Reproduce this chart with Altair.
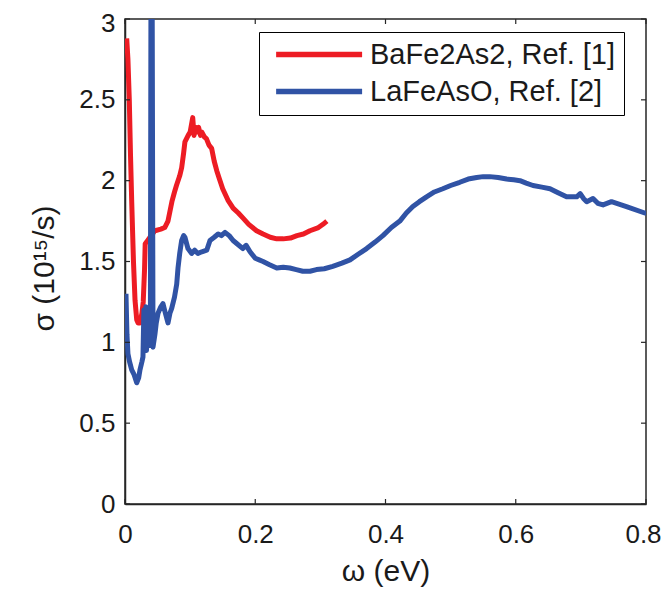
import altair as alt
import pandas as pd

# ---- data ----
series_names = ["BaFe2As2, Ref. [1]", "LaFeAsO, Ref. [2]"]
series_colors = ["#ED1C24", "#3053A5"]

red_x = [0.0026, 0.0045, 0.0066, 0.0085, 0.0103, 0.013, 0.0154, 0.018, 0.020, 0.023,
         0.026, 0.028, 0.030, 0.031, 0.033, 0.040, 0.046, 0.055, 0.061, 0.066,
         0.072, 0.076, 0.079, 0.084, 0.087, 0.090, 0.092, 0.097, 0.100, 0.104,
         0.106, 0.108, 0.110, 0.113, 0.116, 0.118, 0.122, 0.125, 0.129, 0.133,
         0.137, 0.141, 0.145, 0.150, 0.158, 0.166, 0.174, 0.181, 0.190, 0.202,
         0.212, 0.223, 0.233, 0.243, 0.254, 0.264, 0.274, 0.284, 0.297, 0.304, 0.310]
red_y = [2.88, 2.75, 2.50, 2.15, 1.87, 1.50, 1.26, 1.14, 1.12, 1.12,
         1.18, 1.25, 1.45, 1.61, 1.62, 1.66, 1.69, 1.70, 1.71, 1.75,
         1.87, 1.93, 1.97, 2.03, 2.08, 2.17, 2.24, 2.28, 2.30, 2.39,
         2.28, 2.33, 2.30, 2.33, 2.28, 2.30, 2.27, 2.26, 2.22, 2.20,
         2.12, 2.06, 2.01, 1.95, 1.88, 1.83, 1.80, 1.77, 1.73, 1.69,
         1.67, 1.65, 1.64, 1.64, 1.645, 1.66, 1.67, 1.69, 1.71, 1.73, 1.75]

blue_x = [0.0015, 0.0030, 0.0045, 0.007, 0.0103, 0.014, 0.018, 0.021, 0.023, 0.026,
          0.0276, 0.029, 0.030, 0.032, 0.033, 0.035, 0.037, 0.039, 0.0400, 0.0415,
          0.043, 0.046, 0.048, 0.0507, 0.055, 0.0583, 0.062, 0.066, 0.069, 0.0717,
          0.076, 0.0794, 0.0814, 0.084, 0.087, 0.090, 0.092, 0.0967, 0.1024, 0.107,
          0.112, 0.118, 0.1255, 0.1305, 0.137, 0.143, 0.148, 0.1536, 0.160, 0.166,
          0.172, 0.181, 0.186, 0.192, 0.200, 0.206, 0.212, 0.222, 0.233, 0.243,
          0.253, 0.263, 0.273, 0.284, 0.294, 0.306, 0.319, 0.333, 0.3455, 0.358,
          0.371, 0.384, 0.396, 0.409, 0.422, 0.432, 0.442, 0.452, 0.463, 0.475,
          0.488, 0.500, 0.514, 0.527, 0.540, 0.550, 0.560, 0.573, 0.586, 0.597,
          0.6065, 0.616, 0.6265, 0.640, 0.6526, 0.665, 0.678, 0.6936, 0.699, 0.704,
          0.709, 0.7186, 0.726, 0.734, 0.747, 0.770, 0.798, 0.800]
blue_y = [1.30, 1.05, 0.93, 0.88, 0.83, 0.80, 0.75, 0.78, 0.83, 0.88,
          0.91, 1.20, 1.00, 1.22, 0.95, 1.15, 0.98, 1.10, 3.50, 3.50,
          0.97, 1.05, 1.12, 1.18, 1.22, 1.24, 1.18, 1.12, 1.18, 1.21,
          1.28, 1.36, 1.46, 1.55, 1.63, 1.66, 1.65, 1.58, 1.55, 1.57,
          1.55, 1.56, 1.57, 1.63, 1.65, 1.67, 1.66, 1.68, 1.66, 1.63,
          1.61, 1.58, 1.60, 1.56, 1.52, 1.51, 1.50, 1.48, 1.46, 1.465,
          1.46, 1.45, 1.44, 1.44, 1.45, 1.455, 1.47, 1.49, 1.51, 1.545,
          1.58, 1.62, 1.66, 1.71, 1.75, 1.80, 1.84, 1.87, 1.90, 1.93,
          1.95, 1.97, 1.99, 2.01, 2.02, 2.025, 2.025, 2.02, 2.01, 2.005,
          2.00, 1.985, 1.97, 1.96, 1.95, 1.925, 1.90, 1.90, 1.92, 1.89,
          1.87, 1.89, 1.86, 1.85, 1.87, 1.84, 1.80, 1.80]

x_ticks = [0, 0.2, 0.4, 0.6, 0.8]
y_ticks = [0, 0.5, 1, 1.5, 2, 2.5, 3]

# ---- tables ----
red_df = pd.DataFrame({"w": red_x, "s": red_y, "series": series_names[0], "i": range(len(red_x))})
blue_df = pd.DataFrame({"w": blue_x, "s": blue_y, "series": series_names[1], "i": range(len(blue_x))})
xt_df = pd.DataFrame({"w": x_ticks})
yt_df = pd.DataFrame({"s": y_ticks})

W, H = 521, 485
FONT = "Liberation Sans"
AX = "#262626"

xscale = alt.Scale(domain=[0, 0.8], nice=False, zero=False)
yscale = alt.Scale(domain=[0, 3], nice=False, zero=False)
cscale = alt.Scale(domain=series_names, range=series_colors)

xaxis = alt.Axis(values=x_ticks, format="~g", grid=False, ticks=False, tickSize=0,
                 labelFlush=False,
                 labelOffset={"condition": {"test": "datum.value >= 0.79", "value": -3}, "value": 0},
                 labelPadding=17, labelFontSize=26, labelFont=FONT, labelColor="#1a1a1a",
                 domainColor=AX, domainWidth=1.5,
                 title="ω (eV)", titleFontSize=30, titleFont=FONT, titleFontWeight="normal",
                 titleColor="#1a1a1a", titleY=76, titleBaseline="alphabetic")
yaxis = alt.Axis(values=y_ticks, format="~g", grid=False, ticks=False, tickSize=0,
                 labelFlush=False,
                 labelOffset={"condition": {"test": "datum.value >= 2.99", "value": 4}, "value": 0},
                 labelPadding=10, labelFontSize=26, labelFont=FONT, labelColor="#1a1a1a",
                 domainColor=AX, domainWidth=1.5,
                 title="σ (10¹⁵/s)", titleFontSize=30, titleFont=FONT, titleFontWeight="normal",
                 titleColor="#1a1a1a", titleX=-72, titleY=249, titleAngle=-90,
                 titleAlign="center", titleBaseline="alphabetic")

legend = alt.Legend(title=None, orient="none", legendX=134, legendY=13,
                    labelFontSize=29, labelFont=FONT, labelColor="#1a1a1a", labelLimit=400,
                    symbolType="M-0.5,0H7.5", symbolSize=462, symbolStrokeWidth=5.5,
                    labelOffset=74, padding=8, rowPadding=7,
                    strokeColor="#000000", fillColor="white")

X = alt.X("w:Q", scale=xscale, axis=xaxis, title="ω (eV)")
Y = alt.Y("s:Q", scale=yscale, axis=yaxis, title="σ (10¹⁵/s)")

red = alt.Chart(red_df).mark_line(strokeWidth=5, clip=True, strokeJoin="round").encode(
    x=X, y=Y,
    color=alt.Color("series:N", scale=cscale, legend=legend),
    order="i:Q",
)
blue = alt.Chart(blue_df).mark_line(strokeWidth=5, clip=True, strokeJoin="round").encode(
    x=X, y=Y,
    color=alt.Color("series:N", scale=cscale, legend=legend),
    order="i:Q",
)

tick_len = 5
xb = alt.Chart(xt_df).mark_rule(color=AX, strokeWidth=1.2).encode(
    x=X, y=alt.value(H), y2=alt.value(H - tick_len))
xtop = alt.Chart(xt_df).mark_rule(color=AX, strokeWidth=1.2).encode(
    x=X, y=alt.value(0), y2=alt.value(tick_len))
yl = alt.Chart(yt_df).mark_rule(color=AX, strokeWidth=1.2).encode(
    y=Y, x=alt.value(0), x2=alt.value(tick_len))
yr = alt.Chart(yt_df).mark_rule(color=AX, strokeWidth=1.2).encode(
    y=Y, x=alt.value(W), x2=alt.value(W - tick_len))

chart = alt.layer(red, blue, xb, xtop, yl, yr).properties(
    width=W, height=H,
    background="white",
    autosize=alt.AutoSizeParams(type="none"),
    padding={"left": 117, "top": 11, "right": 16, "bottom": 85},
).configure_view(stroke=AX, strokeWidth=1.5)

chart.save("out.html", embed_options={"renderer": "svg", "actions": False})
